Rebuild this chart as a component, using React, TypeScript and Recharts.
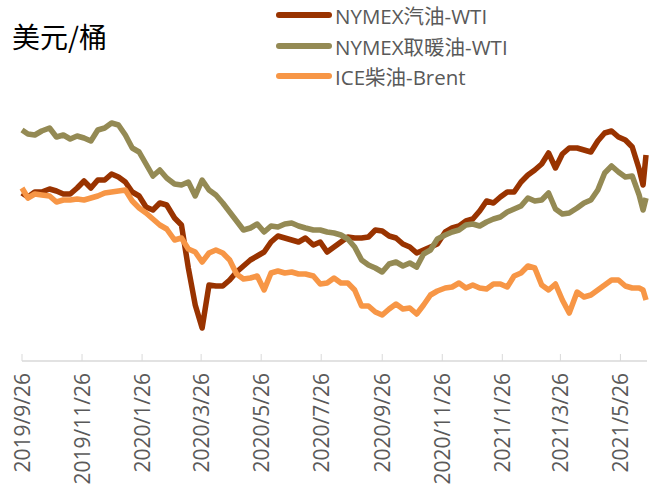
import React from "react";
import { LineChart, Line, XAxis, YAxis } from "recharts";

// weekly samples, 2019/9/26 -> 2021/6/21
const dates = [
  "2019/9/26", "2019/10/2", "2019/10/9", "2019/10/16", "2019/10/24", "2019/10/31",
  "2019/11/7", "2019/11/14", "2019/11/21", "2019/11/28", "2019/12/5", "2019/12/12",
  "2019/12/19", "2019/12/26", "2020/1/2", "2020/1/9", "2020/1/16", "2020/1/23",
  "2020/1/30", "2020/2/6", "2020/2/13", "2020/2/20", "2020/2/28", "2020/3/6",
  "2020/3/13", "2020/3/20", "2020/3/27", "2020/4/3", "2020/4/10", "2020/4/17",
  "2020/4/24", "2020/5/1", "2020/5/8", "2020/5/15", "2020/5/22", "2020/5/29",
  "2020/6/5", "2020/6/12", "2020/6/19", "2020/6/26", "2020/7/3", "2020/7/10",
  "2020/7/18", "2020/7/25", "2020/8/1", "2020/8/8", "2020/8/15", "2020/8/22",
  "2020/8/29", "2020/9/5", "2020/9/12", "2020/9/19", "2020/9/26", "2020/10/3",
  "2020/10/10", "2020/10/17", "2020/10/24", "2020/10/31", "2020/11/7", "2020/11/14",
  "2020/11/21", "2020/11/29", "2020/12/6", "2020/12/13", "2020/12/20", "2020/12/27",
  "2021/1/3", "2021/1/10", "2021/1/17", "2021/1/24", "2021/1/31", "2021/2/7",
  "2021/2/14", "2021/2/21", "2021/2/28", "2021/3/7", "2021/3/14", "2021/3/21",
  "2021/3/28", "2021/4/4", "2021/4/12", "2021/4/19", "2021/4/26", "2021/5/3",
  "2021/5/10", "2021/5/17", "2021/5/24", "2021/5/31", "2021/6/7", "2021/6/14",
  "2021/6/18", "2021/6/21",
];

const gasolineWti = [
  16.8, 16.4, 16.9, 16.9, 17.2, 17.0, 16.7, 16.7, 17.3, 18.0, 17.3, 18.1,
  18.1, 18.7, 18.4, 17.9, 16.9, 16.5, 15.4, 15.1, 15.8, 15.6, 14.3, 13.6,
  9.3, 5.6, 3.3, 7.6, 7.5, 7.5, 8.1, 8.9, 9.5, 10.1, 10.5, 10.9,
  11.9, 12.5, 12.3, 12.1, 11.9, 12.3, 11.6, 11.9, 10.9, 11.4, 11.9, 12.4,
  12.3, 12.3, 12.4, 13.1, 13.0, 12.5, 12.3, 11.7, 11.4, 10.8, 11.1, 11.4,
  11.7, 12.9, 13.3, 13.5, 14.0, 14.2, 15.0, 16.0, 15.8, 16.4, 16.9, 16.9,
  17.9, 18.6, 19.1, 19.7, 20.8, 19.3, 20.7, 21.3, 21.3, 21.1, 20.9, 22.0,
  22.8, 23.0, 22.4, 22.1, 21.4, 19.2, 17.6, 20.6,
];

const heatingOilWti = [
  23.1, 22.7, 22.6, 23.0, 23.3, 22.4, 22.6, 22.2, 22.5, 22.3, 22.0, 23.1,
  23.3, 23.8, 23.6, 22.6, 21.3, 20.9, 19.7, 18.5, 19.1, 18.3, 17.7, 17.6,
  17.9, 16.5, 18.1, 17.1, 16.6, 15.8, 14.9, 14.0, 13.1, 13.3, 13.7, 12.9,
  13.5, 13.4, 13.7, 13.8, 13.5, 13.3, 13.1, 13.1, 12.9, 12.8, 12.6, 12.2,
  11.4, 10.1, 9.6, 9.3, 8.9, 9.7, 9.9, 9.5, 9.8, 9.4, 10.7, 11.1,
  12.2, 12.6, 12.9, 13.1, 13.6, 13.7, 13.5, 13.9, 14.2, 14.4, 14.9, 15.2,
  15.5, 16.3, 16.0, 16.1, 16.8, 15.2, 14.7, 14.8, 15.3, 15.8, 16.1, 17.1,
  18.8, 19.5, 18.9, 18.4, 18.5, 16.6, 15.1, 16.3,
];

const gasoilBrent = [
  17.3, 16.3, 16.7, 16.6, 16.5, 15.9, 16.1, 16.1, 16.2, 16.1, 16.3, 16.5,
  16.8, 16.9, 17.0, 17.1, 16.0, 15.3, 14.8, 14.2, 13.6, 13.2, 12.1, 12.3,
  11.2, 10.9, 9.9, 10.8, 11.1, 10.8, 10.1, 8.7, 8.2, 8.3, 8.5, 7.1,
  8.8, 9.0, 8.8, 8.9, 8.7, 8.7, 8.5, 7.7, 7.8, 8.3, 7.8, 7.8,
  7.1, 5.5, 5.5, 4.9, 4.6, 5.2, 5.7, 5.2, 5.3, 4.7, 5.6, 6.6,
  7.0, 7.3, 7.4, 7.8, 7.3, 7.6, 7.3, 7.2, 7.7, 7.7, 7.4, 8.5,
  8.8, 9.5, 9.3, 7.6, 7.1, 7.7, 6.1, 4.8, 6.9, 6.4, 6.6, 7.1,
  7.6, 8.1, 8.1, 7.5, 7.3, 7.3, 7.1, 6.1,
];

const tickDates = [
  "2019/9/26", "2019/11/26", "2020/1/26", "2020/3/26", "2020/5/26", "2020/7/26",
  "2020/9/26", "2020/11/26", "2021/1/26", "2021/3/26", "2021/5/26",
];

const seriesNames = ["NYMEX汽油-WTI", "NYMEX取暖油-WTI", "ICE柴油-Brent"];
const seriesColors = ["#993300", "#948A54", "#F79646"];

const BASE = Date.UTC(2019, 8, 26);
const toDay = (s: string) => {
  const [y, m, d] = s.split("/").map(Number);
  return Math.round((Date.UTC(y, m - 1, d) - BASE) / 86400000);
};

const data = dates.map((d, i) => ({
  day: toDay(d),
  rb: gasolineWti[i],
  ho: heatingOilWti[i],
  ice: gasoilBrent[i],
}));

const tickDays = tickDates.map(toDay);
const FONT = '"Open Sans", "Noto Sans CJK SC", sans-serif';

function DateTick(props: any) {
  const { x, y, payload } = props;
  const label = tickDates[tickDays.indexOf(payload.value)] ?? "";
  return (
    <g>
      <line x1={x} x2={x} y1={y} y2={y - 7} stroke="#d9d9d9" strokeWidth={1} />
      <text
        transform={`translate(${x},${y + 12}) rotate(-90)`}
        textAnchor="end"
        dy="0.36em"
        fill="#595959"
        fontSize={21}
        fontFamily={FONT}
      >
        {label}
      </text>
    </g>
  );
}

export default function App() {
  return (
    <div
      style={{
        position: "absolute",
        left: 0,
        top: 0,
        width: 658,
        height: 495,
        background: "#fff",
        fontFamily: FONT,
      }}
    >
      <div
        style={{
          position: "absolute",
          left: 12,
          top: 17,
          fontSize: 28,
          lineHeight: "38px",
          color: "#000",
          fontFamily: '"Noto Sans CJK SC", sans-serif',
        }}
      >
        美元/桶
      </div>
      <div style={{ position: "absolute", left: 274, top: 0 }}>
        {seriesNames.map((name, i) => (
          <div
            key={name}
            style={{ display: "flex", alignItems: "center", height: 30.5 }}
          >
            <svg width={60} height={10}>
              <line
                x1={5}
                x2={55}
                y1={5}
                y2={5}
                stroke={seriesColors[i]}
                strokeWidth={6}
                strokeLinecap="round"
              />
            </svg>
            <span style={{ fontSize: 20.5, color: "#595959", marginLeft: 1 }}>
              {name}
            </span>
          </div>
        ))}
      </div>
      <LineChart
        width={658}
        height={495}
        data={data}
        margin={{ top: 61, right: 11, bottom: 14, left: 22 }}
        style={{ position: "absolute", left: 0, top: 0 }}
      >
        <XAxis
          type="number"
          dataKey="day"
          domain={[0, 635]}
          ticks={tickDays}
          interval={0}
          height={120}
          tickSize={0}
          tickMargin={0}
          tickLine={false}
          axisLine={{ stroke: "#d9d9d9", strokeWidth: 1.5 }}
          tick={<DateTick />}
        />
        <YAxis hide domain={[0, 30]} allowDataOverflow />
        <Line
          dataKey="rb"
          stroke={seriesColors[0]}
          strokeWidth={5.5}
          dot={false}
          isAnimationActive={false}
          strokeLinejoin="round"
        />
        <Line
          dataKey="ho"
          stroke={seriesColors[1]}
          strokeWidth={5.5}
          dot={false}
          isAnimationActive={false}
          strokeLinejoin="round"
        />
        <Line
          dataKey="ice"
          stroke={seriesColors[2]}
          strokeWidth={5.5}
          dot={false}
          isAnimationActive={false}
          strokeLinejoin="round"
        />
      </LineChart>
    </div>
  );
}
